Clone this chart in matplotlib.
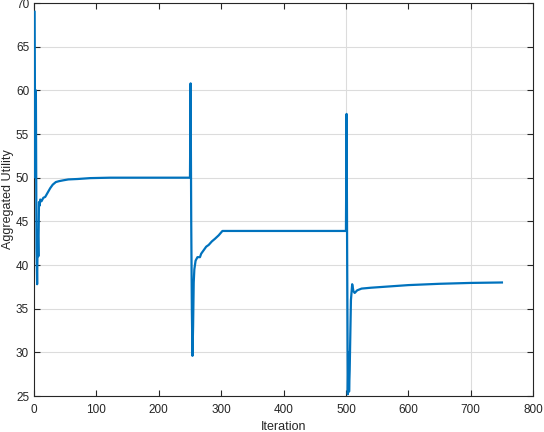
import matplotlib.pyplot as plt

plt.rcParams["font.family"] = ["Liberation Sans", "DejaVu Sans"]

# iteration / utility values
iteration = [1, 2, 3, 4, 5, 6, 7, 8, 9, 10, 12, 15, 18, 22, 26, 30, 35, 40, 47, 55, 70, 90, 122, 160, 200, 250,
             251, 252, 253, 254, 255, 256, 257, 259, 262, 266, 268, 272, 276, 280, 285, 290, 296, 302, 400, 500,
             501, 502, 503, 504, 505, 506, 508, 510, 512, 514, 518, 525, 540, 560, 600, 650, 700, 750]
utility = [69.0, 50.0, 60.0, 42.0, 37.8, 44.0, 41.0, 47.2, 46.8, 47.5, 47.3, 47.7, 47.8, 48.3, 48.8, 49.2, 49.5, 49.6,
           49.7, 49.8, 49.85, 49.95, 50.0, 50.0, 50.0, 50.0,
           60.8, 45.0, 35.0, 29.6, 33.0, 38.0, 39.5, 40.5, 40.9, 40.9, 41.3, 41.7, 42.1, 42.3, 42.7, 43.0, 43.4,
           43.9, 43.9, 43.9,
           57.3, 40.0, 25.2, 30.0, 25.5, 28.0, 36.0, 37.8, 37.0, 36.8, 37.1, 37.3, 37.4, 37.5, 37.7, 37.85, 37.95,
           38.0]

x_ticks = [0, 100, 200, 300, 400, 500, 600, 700, 800]
y_ticks = [25, 30, 35, 40, 45, 50, 55, 60, 65, 70]
x_grid = [500, 700]

fig = plt.figure(figsize=(5.44, 4.32), dpi=100)
ax = fig.add_axes([0.0625, 0.0833, 0.9175, 0.9097])

ax.plot(iteration, utility, color="#0072BD", linewidth=1.6, zorder=3)

for v in y_ticks:
    ax.axhline(v, color="#dcdcdc", linewidth=0.8, zorder=0)
for v in x_grid:
    ax.axvline(v, color="#dcdcdc", linewidth=0.8, zorder=0)

ax.set_xlim(0, 800)
ax.set_ylim(25, 70)
ax.set_xticks(x_ticks)
ax.set_yticks(y_ticks)
ax.tick_params(direction="in", length=4, width=0.8, colors="#262626", labelsize=8.5,
               top=True, right=True)
ax.tick_params(axis="x", pad=6)
for s in ax.spines.values():
    s.set_color("#262626")
    s.set_linewidth(0.8)

ax.set_xlabel("Iteration", fontsize=9, color="#262626", labelpad=3)
ax.set_ylabel("Aggregated Utility", fontsize=9, color="#262626", labelpad=1)

plt.savefig("out.png", dpi=100)
plt.close()
